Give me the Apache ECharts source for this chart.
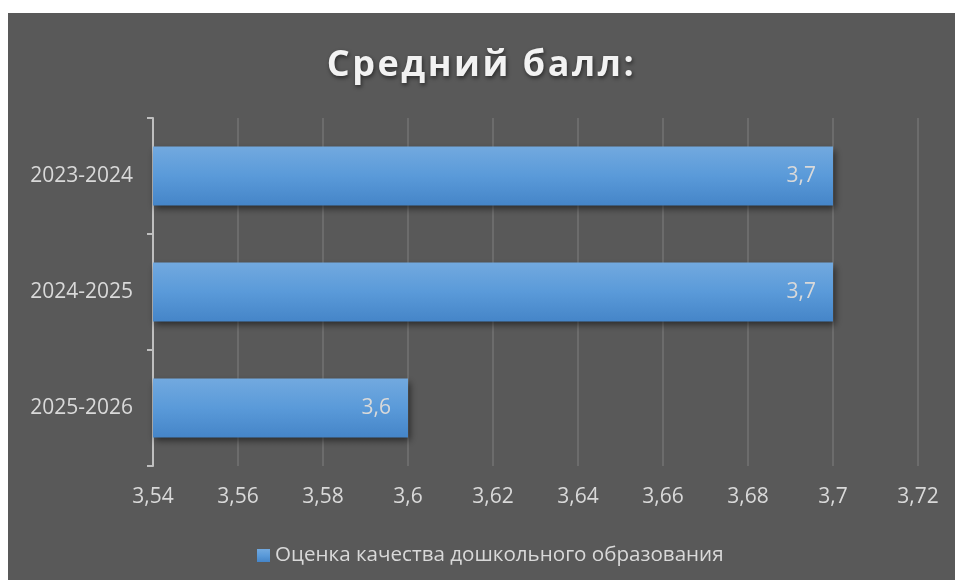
<!DOCTYPE html>
<html>
<head>
<meta charset="utf-8">
<script src="https://cdn.jsdelivr.net/npm/echarts@6/dist/echarts.min.js"></script>
<style>
html,body{margin:0;padding:0;background:#ffffff;width:955px;height:580px;overflow:hidden;}
#chart{position:absolute;left:8px;top:13px;width:947px;height:567px;background:#595959;}
</style>
</head>
<body>
<div id="chart"></div>
<script>
const titleText = 'Средний балл:';
const seriesName = 'Оценка качества дошкольного образования';
const categories = ['2023-2024', '2024-2025', '2025-2026'];
const values = [3.7, 3.7, 3.6];
const axisMin = 3.54;
const axisMax = 3.72;
const axisStep = 0.02;

const fmt = v => String(Math.round(v * 100) / 100).replace('.', ',');
const FONT = '"Open Sans", "Noto Sans", sans-serif';

// letter spacing for the title text (canvas supports ctx.letterSpacing)
(function () {
  const P = CanvasRenderingContext2D.prototype;
  const isTitle = ctx => /bold/.test(ctx.font) && /36px/.test(ctx.font);
  const wrap = name => {
    const orig = P[name];
    P[name] = function () {
      if (isTitle(this) && 'letterSpacing' in this) {
        const prev = this.letterSpacing;
        this.letterSpacing = '2.5px';
        const r = orig.apply(this, arguments);
        this.letterSpacing = prev;
        return r;
      }
      return orig.apply(this, arguments);
    };
  };
  wrap('fillText');
  wrap('strokeText');
  wrap('measureText');
})();

const chart = echarts.init(document.getElementById('chart'), null, {renderer: 'canvas'});
chart.setOption({
  animation: false,
  backgroundColor: '#595959',
  textStyle: {fontFamily: FONT},
  title: {
    text: titleText,
    left: 'center',
    top: 28,
    textStyle: {
      color: '#f2f2f2',
      fontFamily: FONT,
      fontWeight: 'bold',
      fontSize: 36,
      textShadowColor: 'rgba(0,0,0,0.55)',
      textShadowBlur: 4,
      textShadowOffsetX: 1,
      textShadowOffsetY: 2
    }
  },
  legend: {
    left: 244,
    top: 527,
    icon: 'rect',
    itemWidth: 13,
    itemHeight: 13,
    itemGap: 6,
    textStyle: {color: '#d9d9d9', fontSize: 20.6, fontFamily: FONT},
    data: [seriesName]
  },
  grid: {left: 145, right: 37, top: 105, bottom: 114, containLabel: false},
  xAxis: {
    type: 'value',
    min: axisMin,
    max: axisMax,
    interval: axisStep,
    axisLine: {show: false},
    axisTick: {show: false},
    splitLine: {show: true, lineStyle: {color: '#737373', width: 1.5}},
    axisLabel: {color: '#d9d9d9', fontSize: 21, fontFamily: FONT, margin: 21, formatter: fmt}
  },
  yAxis: {
    type: 'category',
    inverse: true,
    data: categories,
    axisLine: {show: true, lineStyle: {color: '#bfbfbf', width: 2}},
    axisTick: {show: true, length: 6, lineStyle: {color: '#bfbfbf', width: 2}},
    axisLabel: {color: '#d9d9d9', fontSize: 21, fontFamily: FONT, margin: 20}
  },
  series: [{
    name: seriesName,
    type: 'bar',
    data: values,
    barWidth: 59,
    itemStyle: {
      color: new echarts.graphic.LinearGradient(0, 0, 0, 1, [
        {offset: 0, color: '#72a9df'},
        {offset: 0.5, color: '#5a9ad9'},
        {offset: 1, color: '#4585c8'}
      ]),
      shadowColor: 'rgba(0,0,0,0.55)',
      shadowBlur: 7,
      shadowOffsetX: 2,
      shadowOffsetY: 3
    },
    label: {
      show: true,
      position: 'insideRight',
      distance: 17,
      color: '#d9d9d9',
      fontSize: 21,
      fontFamily: FONT,
      formatter: p => fmt(p.value)
    }
  }]
});
</script>
</body>
</html>
